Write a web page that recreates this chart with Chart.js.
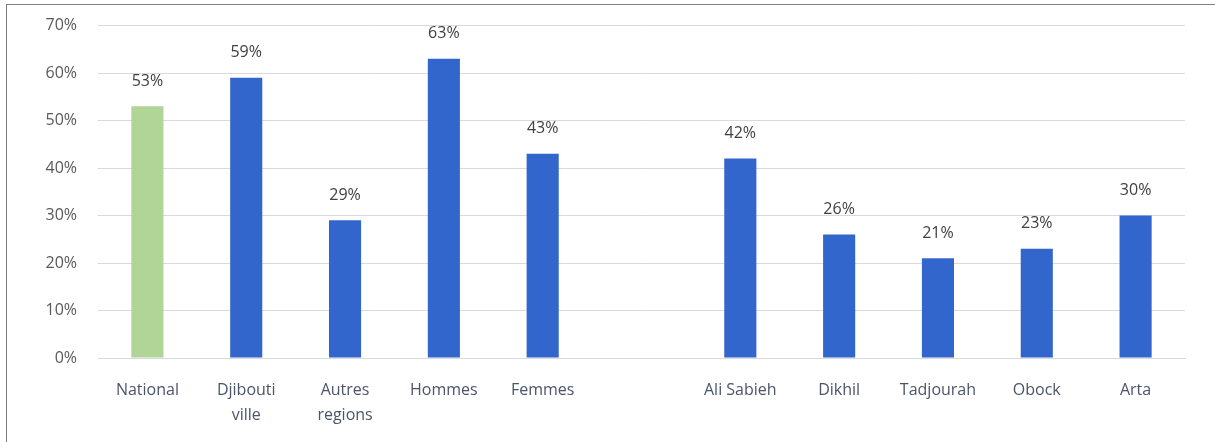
<!DOCTYPE html>
<html>
<head>
<meta charset="utf-8">
<script src="https://cdn.jsdelivr.net/npm/chart.js@4/dist/chart.umd.min.js"></script>
<style>
  body { margin: 0; background: #fff; }
  #wrap { position: relative; width: 1215px; height: 442px; overflow: hidden; }
  #frame { position: absolute; left: 6px; top: 4px; width: 1220px; height: 460px; border: 1px solid #7f7f7f; box-sizing: border-box; }
  canvas { position: absolute; left: 0; top: -5px; }
</style>
</head>
<body>
<div id="wrap">
  <div id="frame"></div>
  <canvas id="chart" width="1215" height="447"></canvas>
</div>
<script>
// categories (empty slot = gap between groups)
const categories = ['National', ['Djibouti', 'ville'], ['Autres', 'regions'], 'Hommes', 'Femmes', '',
  'Ali Sabieh', 'Dikhil', 'Tadjourah', 'Obock', 'Arta'];
const values = [53, 59, 29, 63, 43, null, 42, 26, 21, 23, 30];
const barColors = ['#b0d596', '#3366cc', '#3366cc', '#3366cc', '#3366cc', '#3366cc',
  '#3366cc', '#3366cc', '#3366cc', '#3366cc', '#3366cc'];
const yTicksMax = 70;

const FONT = '"Open Sans", "Liberation Sans", sans-serif';

// labels over the bars
const valueLabels = {
  id: 'valueLabels',
  afterDatasetsDraw(chart) {
    const ctx = chart.ctx;
    const meta = chart.getDatasetMeta(0);
    ctx.save();
    ctx.font = '16px ' + FONT;
    ctx.fillStyle = '#404040';
    ctx.textAlign = 'center';
    ctx.textBaseline = 'middle';
    meta.data.forEach((bar, i) => {
      if (values[i] == null) return;
      ctx.fillText(values[i] + '%', bar.x, bar.y - 25);
    });
    ctx.restore();
  }
};

new Chart(document.getElementById('chart'), {
  type: 'bar',
  data: {
    labels: categories,
    datasets: [{
      data: values,
      backgroundColor: barColors,
      categoryPercentage: 1,
      barPercentage: 0.325
    }]
  },
  options: {
    responsive: false,
    animation: false,
    layout: { padding: { top: 20, right: 30, left: 0, bottom: 0 } },
    plugins: { legend: { display: false }, tooltip: { enabled: false } },
    scales: {
      y: {
        min: 0,
        max: yTicksMax,
        ticks: {
          stepSize: 10,
          padding: 21,
          color: '#595959',
          font: { family: FONT, size: 16 },
          callback: v => v + '%'
        },
        grid: { color: '#d9d9d9', drawTicks: false },
        border: { display: false },
        afterFit(scale) { scale.width = 98; }
      },
      x: {
        ticks: {
          padding: 20,
          color: '#4a5568',
          font: { family: FONT, size: 16, lineHeight: 1.55 },
          maxRotation: 0,
          autoSkip: false
        },
        grid: { display: false, drawTicks: false },
        border: { color: '#d9d9d9' },
        afterFit(scale) { scale.height = 84; }
      }
    }
  },
  plugins: [valueLabels]
});
</script>
</body>
</html>
